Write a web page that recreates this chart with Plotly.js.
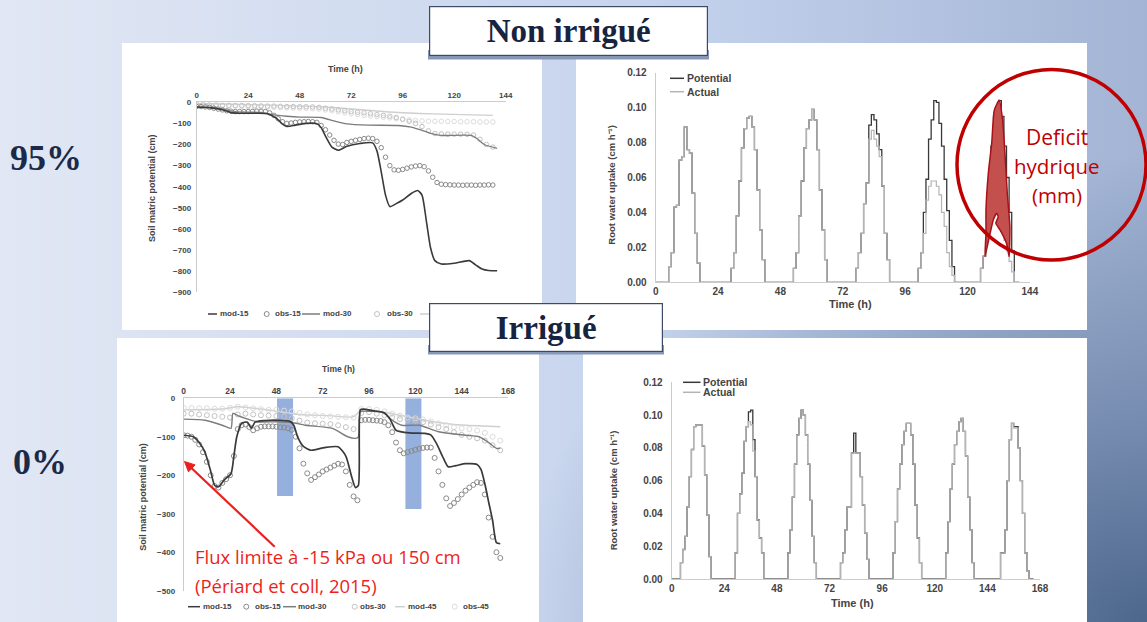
<!DOCTYPE html>
<html><head><meta charset="utf-8">
<script src="https://cdn.plot.ly/plotly-3.0.1.min.js"></script>
<style>
html,body{margin:0;padding:0;width:1147px;height:622px;overflow:hidden;}
#bg{position:absolute;left:0;top:0;width:1147px;height:622px;
background:
 radial-gradient(ellipse 55% 75% at 100% 100%, rgba(72,98,135,0.95) 0%, rgba(95,120,158,0.7) 40%, rgba(140,160,200,0) 100%),
 linear-gradient(90deg, #E1E7F4 0%, #D3DDF0 30%, #C6D4EE 55%, #B3C3E1 80%, #A3B4D4 100%);}
#chart{position:absolute;left:0;top:0;width:1147px;height:622px;}
</style></head>
<body><div id="bg"></div><div id="chart"></div>
<script>
// ================= DATA =================
// Non irrigué – soil matric potential (cm) vs time (h)
const tlTimeTicks = [0, 24, 48, 72, 96, 120, 144];
const tlPotTicks = [0, -100, -200, -300, -400, -500, -600, -700, -800, -900];

const tlMod15Time = [0,6,12,16,20,26,33,37,40,42,46,51,56,58,60,63,66,70,76,82,84,86,88,90,93,96,100,103,105,107,109,111,114,120,127,130,133,136,140];
const tlMod15 = [-22,-25,-35,-49,-52,-52,-54,-75,-103,-114,-108,-100,-101,-120,-160,-212,-227,-208,-195,-192,-230,-330,-440,-494,-480,-463,-432,-418,-440,-560,-690,-750,-766,-762,-750,-770,-790,-797,-798];

const tlObs15Time = [0,2,4,6,8,10,12,14,16,18,20,22,24,26,28,30,32,34,36,38,40,42,44,46,48,50,52,54,56,58,60,62,64,66,68,70,72,74,76,78,80,82,84,86,88,90,92,94,96,98,100,102,104,106,108,110,112,114,116,118,120,122,124,126,128,130,132,134,136,138];
const tlObs15 = [-20,-20,-22,-24,-28,-32,-36,-40,-42,-44,
 -44,-44,-44,-43,-42,-42,-44,-50,-62,-78,
 -92,-100,-98,-95,-93,-92,-91,-92,-95,-110,
 -130,-155,-180,-198,-200,-190,-185,-180,-176,-172,
 -170,-172,-185,-215,-260,-300,-320,-322,-318,-312,
 -306,-302,-300,-305,-325,-355,-380,-388,-390,-391,
 -392,-392,-393,-392,-392,-393,-392,-392,-391,-392];

const tlMod30Time = [0,10,18,30,36,42,48,58,64,70,80,94,100,104,110,114,128,131,134,140];
const tlMod30 = [-22,-28,-44,-48,-60,-66,-70,-72,-88,-102,-108,-110,-118,-130,-150,-157,-157,-175,-200,-218];

const tlObsTime3 = [0,3,6,9,12,15,18,21,24,27,30,33,36,39,42,45,48,51,54,57,60,63,66,69,72,75,78,81,84,87,90,93,96,99,102,105,108,111,114,117,120,123,126,129,132,135,138];
const tlObs30 = [-10,-10,-12,-12,-14,-14,-15,-15,-16,-16,
 -17,-18,-18,-19,-20,-20,-21,-21,-22,-24,
 -28,-32,-36,-40,-44,-47,-50,-54,-58,-62,
 -66,-72,-80,-90,-100,-115,-135,-148,-150,-151,
 -151,-151,-152,-155,-175,-200,-212];
const tlObs45 = [-15,-15,-16,-16,-17,-18,-18,-19,-20,-21,
 -22,-23,-24,-25,-26,-27,-28,-29,-30,-32,
 -36,-40,-45,-50,-54,-58,-62,-65,-68,-71,
 -74,-77,-80,-83,-86,-88,-89,-90,-90,-91,
 -91,-92,-92,-92,-93,-93,-93];
const tlMod45Time = [0,30,60,90,110,138];
const tlMod45 = [-6,-12,-22,-46,-55,-62];

// Non irrigué – root water uptake (cm h-1)
const ruTicks = [0, 0.02, 0.04, 0.06, 0.08, 0.10, 0.12];
const ruTickText = ['0.00','0.02','0.04','0.06','0.08','0.10','0.12'];
const niHours = [0,4,5,6,7,8,9,10,11,12,13,14,15,16,17,
 28,29,30,31,32,33,34,35,36,37,38,39,40,41,42,
 52,53,54,55,56,57,58,59,60,61,62,63,64,65,66,
 76,77,78,79,80,81,82,83,84,85,86,87,88,89,90,
 100,101,102,103,104,105,106,107,108,109,110,111,112,113,114,115,
 124,125,126,127,128,129,130,131,132,133,134,135,136,137,138,140];
const niPotential = [0,0,.009,.017,.043,.044,.070,.072,.089,.076,.074,.051,.028,.011,0,
 0,.008,.017,.038,.058,.077,.088,.094,.095,.089,.076,.053,.030,.013,0,
 0,.008,.017,.038,.058,.077,.088,.093,.099,.093,.076,.053,.030,.013,0,
 0,.008,.017,.028,.045,.057,.090,.096,.093,.085,.076,.055,.028,.013,0,
 0,.008,.017,.040,.059,.082,.093,.104,.103,.091,.078,.059,.041,.024,.009,0,
 0,.008,.015,.024,.053,.078,.095,.100,.104,.095,.078,.060,.040,.018,0,0];
const niActual = [0,0,.009,.017,.043,.044,.070,.072,.089,.076,.074,.051,.028,.011,0,
 0,.008,.017,.038,.058,.077,.088,.094,.095,.089,.076,.053,.030,.013,0,
 0,.008,.017,.038,.058,.077,.088,.093,.099,.093,.076,.053,.030,.013,0,
 0,.008,.017,.028,.045,.057,.082,.087,.082,.078,.072,.055,.028,.013,0,
 0,.008,.017,.028,.047,.055,.058,.058,.055,.050,.040,.032,.017,.009,.004,0,
 0,.008,.015,.024,.032,.037,.040,.040,.036,.030,.024,.018,.012,.006,0,0];
// hand-drawn deficit area (day 6) between potential and actual
const deficitHours = [132.2,130.3,129.3,128.0,127.1,127.1,126.7,128.4,129.9,131.2,131.8,130.9,132.5,135.0,136.0,136.3,135.3,134.4,133.5,132.2];
const deficitUptake = [0.1043,0.0986,0.0796,0.0624,0.0414,0.028,0.0147,0.026,0.0357,0.0395,0.0375,0.0338,0.030,0.0223,0.0147,0.0318,0.051,0.0738,0.0929,0.1043];

// Irrigué – soil matric potential
const blTimeTicks = [0, 24, 48, 72, 96, 120, 144, 168];
const blPotTicks = [0, -100, -200, -300, -400, -500];
const blMod15Time = [0,5,8,11,14,16,18,21,24.5,26,27.5,30,33,35,37,42,49,55,57,59,62,66,73,80,84,87,89,90.5,91.5,93,98,104,107,110,117,125,128,131,134,137,141,146,152,154,156,158,160,162,164];
const blMod15 = [-96,-100,-115,-140,-190,-226,-230,-212,-196,-150,-100,-65,-62,-78,-62,-58,-57,-60,-70,-100,-125,-135,-128,-126,-150,-204,-232,-226,-30,-28,-32,-38,-55,-83,-90,-91,-95,-118,-150,-178,-175,-170,-172,-185,-222,-270,-317,-375,-378];
const blObs15Time = [0,2,4,6,8,10,12,14,16,18,20,22,24,26,28,30,32,34,36,38,40,42,44,46,48,50,52,54,56,58,60,62,64,66,68,70,72,74,76,78,80,82,84,86,88,90,92,94,96,98,100,102,104,106,108,110,112,114,116,118,120,122,124,126,128,130,132,134,136,138,140,142,144,146,148,150,152,154,156,158,160,162,164];
const blObs15 = [-96,-97,-100,-108,-120,-140,-165,-200,-228,-232,
 -220,-210,-200,-150,-80,-70,-68,-75,-83,-78,
 -74,-73,-73,-73,-74,-75,-76,-78,-82,-100,
 -130,-170,-195,-212,-205,-198,-190,-185,-180,-175,
 -170,-172,-190,-225,-255,-265,-57,-56,-56,-57,
 -58,-59,-62,-70,-88,-115,-135,-143,-140,-137,
 -134,-131,-129,-128,-128,-155,-190,-225,-260,-280,
 -272,-262,-250,-240,-232,-225,-218,-220,-250,-310,
 -360,-400,-415];
const blMod30Time = [0,11,20,24.5,25.5,28,32,38,49,56,63,77,85,89,90.5,91.5,96,103,108,113,122,132,146,153,158,162,164];
const blMod30 = [-54,-57,-70,-78,-39,-45,-52,-61,-61,-63,-70,-78,-100,-104,-100,-35,-34,-36,-57,-70,-70,-87,-96,-100,-115,-130,-130];
const blObsTime4 = [0,4,8,12,16,20,24,28,32,36,40,44,48,52,56,60,64,68,72,76,80,84,88,92,96,100,104,108,112,116,120,124,128,132,136,140,144,148,152,156,160,164];
const blObs30 = [-40,-40,-42,-44,-46,-48,-50,-42,-40,-42,
 -44,-45,-46,-48,-52,-58,-63,-65,-66,-67,
 -70,-75,-80,-38,-36,-40,-44,-50,-54,-56,
 -58,-62,-68,-75,-80,-88,-95,-100,-104,-110,
 -122,-135];
const blMod45Time = [0,20,28,40,50,60,75,88,92,100,110,125,140,155,164];
const blMod45 = [-30,-28,-22,-28,-35,-42,-45,-48,-30,-33,-42,-57,-68,-72,-74];
const blObs45 = [-25,-25,-26,-26,-27,-27,-25,-22,-24,-26,
 -28,-30,-30,-32,-34,-38,-42,-44,-46,-47,
 -48,-49,-50,-28,-28,-30,-34,-40,-45,-50,
 -52,-55,-60,-65,-70,-75,-78,-80,-84,-90,
 -100,-110];
// irrigation events (blue bars)
const irrigTime = [52.5, 119];
const irrigWidth = [8.3, 8.3];
const irrigDepth = [-254, -288];

// Irrigué – root water uptake
const irHours = [0,3,4,5,6,7,8,9,10,11,12,13,14,15,16,17,18,
 28,29,30,31,32,33,34,35,36,37,38,39,40,41,42,
 52,53,54,55,56,57,58,59,60,61,62,63,64,65,66,
 76,77,78,79,80,81,82,83,84,85,86,87,88,89,90,
 100,101,102,103,104,105,106,107,108,109,110,111,112,113,114,
 124,125,126,127,128,129,130,131,132,133,134,135,136,137,138,
 149,150,151,152,153,154,155,156,157,158,159,160,161,162,163,165];
const irPotential = [0,0,.01,.018,.026,.044,.0625,.079,.093,.094,.094,.094,.081,.0635,.039,.0136,0,
 0,.016,.04,.052,.0645,.084,.093,.102,.103,.085,.0625,.036,.025,.016,0,
 0,.016,.03,.05,.07,.088,.098,.103,.1,.088,.07,.048,.026,.01,0,
 0,.01,.016,.03,.044,.044,.077,.089,.077,.077,.0625,.045,.028,.012,0,
 0,.016,.035,.055,.07,.082,.09,.095,.095,.088,.07,.045,.025,.01,0,
 0,.016,.035,.055,.07,.082,.09,.096,.098,.09,.075,.05,.03,.01,0,
 0,.016,.016,.03,.06,.085,.095,.093,.093,.08,.06,.04,.016,.005,0,0];
const irActual = [0,0,.01,.018,.026,.044,.0625,.079,.093,.094,.094,.094,.081,.0635,.039,.0136,0,
 0,.016,.04,.052,.0645,.084,.093,.096,.094,.078,.0625,.036,.025,.016,0,
 0,.016,.03,.05,.07,.088,.098,.103,.1,.088,.07,.048,.026,.01,0,
 0,.01,.016,.03,.044,.044,.077,.077,.077,.077,.0625,.045,.028,.012,0,
 0,.016,.035,.055,.07,.082,.09,.095,.095,.088,.07,.045,.025,.01,0,
 0,.016,.035,.055,.07,.082,.09,.096,.098,.09,.075,.05,.03,.01,0,
 0,.016,.016,.03,.06,.085,.095,.092,.092,.08,.06,.04,.016,.005,0,0];

// ================= LAYOUT HELPERS =================
const W = 1147, H = 622;
const PX = v => v / W, PY = v => 1 - v / H;
const SANS = 'Liberation Sans, Arial, sans-serif';
const SERIF = 'Liberation Serif, Times New Roman, serif';
const HUM = 'Open Sans, Noto Sans, sans-serif';
const C15 = '#3a3a3a', C30 = '#7c7c7c', C45 = '#cfcfcf';
const CO15 = '#8a8a8a', CO30 = '#c2c2c2', CO45 = '#dcdcdc';
const POT = '#383838', ACT = '#b4b4b4';
const RED = '#EC1F1C';

function tf(size){ return {family:SANS, size:size, color:'#444', weight:'bold'}; }
function ax(extra){ return Object.assign({showgrid:false, zeroline:false, showline:true, linecolor:'#cccccc', linewidth:1, ticks:'', fixedrange:true}, extra); }

function line(x, y, xa, ya, color, width, name){
  return {type:'scatter', mode:'lines', x:x, y:y, xaxis:xa, yaxis:ya, name:name,
    line:{color:color, width:width, shape:'spline', smoothing:0.6}, showlegend:false, hoverinfo:'skip'};
}
function circ(x, y, xa, ya, color, size, name){
  return {type:'scatter', mode:'markers', x:x, y:y, xaxis:xa, yaxis:ya, name:name,
    marker:{symbol:'circle-open', size:size, color:color, line:{width:1, color:color}}, showlegend:false, hoverinfo:'skip'};
}
function step(x, y, xa, ya, color, width, name){
  return {type:'scatter', mode:'lines', x:x, y:y, xaxis:xa, yaxis:ya, name:name,
    line:{color:color, width:width, shape:'hv'}, showlegend:false, hoverinfo:'skip'};
}

const traces = [
  // top-left
  line(tlMod45Time, tlMod45, 'x', 'y', C45, 1.4, 'mod-45'),
  circ(tlObsTime3, tlObs45, 'x', 'y', CO45, 4.5, 'obs-45'),
  circ(tlObsTime3, tlObs30, 'x', 'y', CO30, 4.5, 'obs-30'),
  line(tlMod30Time, tlMod30, 'x', 'y', C30, 1.3, 'mod-30'),
  circ(tlObs15Time, tlObs15, 'x', 'y', CO15, 4.5, 'obs-15'),
  line(tlMod15Time, tlMod15, 'x', 'y', C15, 1.6, 'mod-15'),
  // top-right
  step(niHours, niPotential, 'x2', 'y2', POT, 1.3, 'Potential'),
  step(niHours, niActual, 'x2', 'y2', ACT, 1.2, 'Actual'),
  {type:'scatter', mode:'lines', x:deficitHours, y:deficitUptake, xaxis:'x2', yaxis:'y2', fill:'toself',
   fillcolor:'#C3504C', line:{color:'#A8111A', width:1.5, shape:'spline', smoothing:0.5}, showlegend:false, hoverinfo:'skip', name:'Deficit'},
  // bottom-left
  {type:'bar', x:irrigTime, y:irrigDepth, width:irrigWidth, xaxis:'x3', yaxis:'y3',
   marker:{color:'#8EAADC', line:{width:0}}, opacity:0.92, showlegend:false, hoverinfo:'skip', name:'irrigation'},
  line(blMod45Time, blMod45, 'x3', 'y3', C45, 1.4, 'mod-45'),
  circ(blObsTime4, blObs45, 'x3', 'y3', CO45, 5, 'obs-45'),
  circ(blObsTime4, blObs30, 'x3', 'y3', CO30, 5, 'obs-30'),
  line(blMod30Time, blMod30, 'x3', 'y3', C30, 1.4, 'mod-30'),
  circ(blObs15Time, blObs15, 'x3', 'y3', CO15, 5, 'obs-15'),
  line(blMod15Time, blMod15, 'x3', 'y3', C15, 1.7, 'mod-15'),
  // bottom-right
  step(irHours, irPotential, 'x4', 'y4', POT, 1.3, 'Potential'),
  step(irHours, irActual, 'x4', 'y4', ACT, 1.2, 'Actual')
];

// ---------- shapes ----------
function rect(x0,y0,x1,y1,fill,layer){ return {type:'rect', xref:'paper', yref:'paper', x0:PX(x0), x1:PX(x1), y0:PY(y1), y1:PY(y0), fillcolor:fill, line:{width:0}, layer:layer||'below'}; }
function seg(x0,x1,y,color,w){ return {type:'line', xref:'paper', yref:'paper', x0:PX(x0), x1:PX(x1), y0:PY(y), y1:PY(y), line:{color:color, width:w||1.5}, layer:'above'}; }
function dot(x,y,color){ return {type:'circle', xref:'paper', yref:'paper', x0:PX(x-2.5), x1:PX(x+2.5), y0:PY(y+2.5), y1:PY(y-2.5), line:{color:color, width:1}, fillcolor:'rgba(0,0,0,0)', layer:'above'}; }
// red arrow (annotation pointer) from the note to the y axis
function arrowShapes(tx,ty,hx,hy,color){
  const dx = hx-tx, dy = hy-ty, L = Math.hypot(dx,dy), ux = dx/L, uy = dy/L, px = -uy, py = ux;
  const bx = hx-ux*10, by = hy-uy*10;
  const P = (x,y) => PX(x)+','+PY(y);
  return [
    {type:'line', xref:'paper', yref:'paper', x0:PX(tx), y0:PY(ty), x1:PX(bx+ux*2), y1:PY(by+uy*2), line:{color:color, width:2.2}, layer:'above'},
    {type:'path', xref:'paper', yref:'paper', path:'M'+P(hx,hy)+' L'+P(bx+px*4.8,by+py*4.8)+' L'+P(bx-px*4.8,by-py*4.8)+' Z', fillcolor:color, line:{color:color, width:1}, layer:'above'}
  ];
}

const shapes = [
  rect(122,43,542,330,'#ffffff'),
  rect(576,43,1087,330,'#ffffff'),
  rect(117,338,539,622,'#ffffff'),
  rect(583,338,1087,622,'#ffffff'),
  // legend samples TL
  seg(208,217,314,C15), dot(266.7,314,CO15), seg(302,320,314,C30), dot(377,314,CO30), seg(420,432,314,C45),
  // legend samples BL
  seg(188,200,606.7,C15), dot(246.3,606.7,CO15), seg(283,296,606.7,C30), dot(354.7,606.7,CO30), seg(395,405,606.7,C45), dot(454.7,606.7,CO45),
  // legend samples TR / BR
  seg(670,684,78.3,POT,1.5), seg(670,684,91.7,ACT,1.5),
  seg(683,700.5,382.3,POT,1.5), seg(683,700.5,392.3,ACT,1.5),
  // title-box shadows
  rect(428,50,709,59.5,'#8797B6','above'),
  rect(428,345,664,354.5,'#8797B6','above'),
  // red circle
  {type:'circle', xref:'paper', yref:'paper', x0:PX(957), x1:PX(1146), y0:PY(260), y1:PY(69.5), line:{color:'#C00000', width:3.5}, fillcolor:'rgba(0,0,0,0)', layer:'above'}
].concat(arrowShapes(274.7,546.7,184.5,461.5,RED));

// ---------- annotations ----------
function txt(x,y,text,font,extra){ return Object.assign({xref:'paper', yref:'paper', x:PX(x), y:PY(y), text:text, showarrow:false, font:font, xanchor:'center', yanchor:'middle'}, extra||{}); }
const f = (size, color, family, weight) => ({family:family||SANS, size:size, color:color||'#444', weight:weight||'bold'});

const annotations = [
  // axis titles
  txt(345,69.3,'Time (h)',f(9)),
  txt(152,188,'Soil matric potential (cm)',f(9),{textangle:-90}),
  txt(850.7,304.3,'Time (h)',f(11)),
  txt(610.7,185,'Root water uptake (cm h⁻¹)',f(9.5),{textangle:-90}),
  txt(338,369.3,'Time (h)',f(8.5)),
  txt(143,496.7,'Soil matric potential (cm)',f(9),{textangle:-90}),
  txt(852.7,603.3,'Time (h)',f(11)),
  txt(613.3,490,'Root water uptake (cm h⁻¹)',f(9.5),{textangle:-90}),
  // legends TL
  txt(218,314,'mod-15',f(8)),
  txt(273,314,'obs-15',f(8)),
  txt(320.5,314,'mod-30',f(8)),
  txt(385,314,'obs-30',f(8)),
  // legends BL
  txt(200.5,606.7,'mod-15',f(8)),
  txt(252.5,606.7,'obs-15',f(8)),
  txt(296.3,606.7,'mod-30',f(8)),
  txt(358,606.7,'obs-30',f(8)),
  txt(406,606.7,'mod-45',f(8)),
  txt(461,606.7,'obs-45',f(8)),
  // legends TR/BR
  txt(685,78.3,'Potential',f(10.5)),
  txt(685,91.7,'Actual',f(10.5)),
  txt(701,382.3,'Potential',f(10.5)),
  txt(701,392.3,'Actual',f(10.5)),
  // side labels
  txt(46,158,'95%',f(36,'#1B2A47',SERIF)),
  txt(40,462,'0%',f(36,'#1B2A47',SERIF)),
  // deficit
  txt(1056.5,137,'Deficit',f(21,'#C00000',HUM,'normal')),
  txt(1056.5,166,'hydrique',f(20.5,'#C00000',HUM,'normal')),
  txt(1056.5,195,'(mm)',f(20.5,'#C00000',HUM,'normal')),
  // flux note
  txt(193,556.7,'Flux limite à -15 kPa ou 150 cm',f(18.5,RED,HUM,'normal')),
  txt(193,585,'(Périard et coll, 2015)',f(18.5,RED,HUM,'normal')),
  // title boxes (drawn last, on top)
  txt(568,31.5,'Non irrigué',f(33,'#17243F',SERIF),{bgcolor:'#ffffff', bordercolor:'#3B4A66', borderwidth:1.2, borderpad:0, width:277, height:48}),
  txt(545.5,327,'Irrigué',f(33,'#17243F',SERIF),{bgcolor:'#ffffff', bordercolor:'#3B4A66', borderwidth:1.2, borderpad:0, width:232, height:47})
];
// legend and note texts are left-anchored
annotations.forEach(a => { if (/^(mod|obs)-|^Potential$|^Actual$|^Flux|^\(Périard/.test(a.text)) a.xanchor = 'left'; });

const layout = {
  width: W, height: H, autosize:false,
  margin:{l:0,r:0,t:0,b:0},
  paper_bgcolor:'rgba(0,0,0,0)', plot_bgcolor:'rgba(0,0,0,0)',
  showlegend:false,
  xaxis: ax({domain:[PX(196.7),PX(505.7)], range:[0,144], side:'top', anchor:'y', tickvals:tlTimeTicks, tickfont:tf(8)}),
  yaxis: ax({domain:[PY(292.3),PY(102.3)], range:[-900,0], anchor:'x', tickvals:tlPotTicks, tickfont:tf(8), ticklabelstandoff:3}),
  xaxis2: ax({domain:[PX(655.7),PX(1029.9)], range:[0,144], anchor:'y2', tickvals:tlTimeTicks, tickfont:tf(10)}),
  yaxis2: ax({domain:[PY(282.3),PY(72.7)], range:[0,0.12], anchor:'x2', tickvals:ruTicks, ticktext:ruTickText, tickfont:tf(10), ticklabelstandoff:6}),
  xaxis3: ax({domain:[PX(183.7),PX(508)], range:[0,168], side:'top', anchor:'y3', tickvals:blTimeTicks, tickfont:tf(8.5)}),
  yaxis3: ax({domain:[PY(590.7),PY(398.3)], range:[-500,0], anchor:'x3', tickvals:blPotTicks, tickfont:tf(8), ticklabelstandoff:6}),
  xaxis4: ax({domain:[PX(671.7),PX(1040)], range:[0,168], anchor:'y4', tickvals:blTimeTicks, tickfont:tf(10)}),
  yaxis4: ax({domain:[PY(579),PY(382.3)], range:[0,0.12], anchor:'x4', tickvals:ruTicks, ticktext:ruTickText, tickfont:tf(10), ticklabelstandoff:6}),
  shapes: shapes,
  annotations: annotations
};

Plotly.newPlot('chart', traces, layout, {displayModeBar:false, staticPlot:true});
</script></body></html>
